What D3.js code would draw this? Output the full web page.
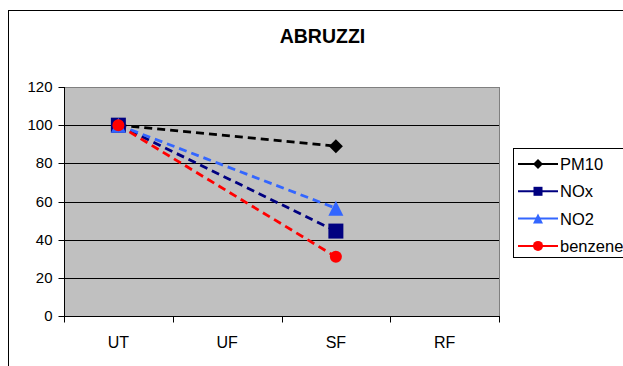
<!DOCTYPE html>
<html>
<head>
<meta charset="utf-8">
<script src="https://cdn.jsdelivr.net/npm/d3@7/dist/d3.min.js"></script>
<style>
  html, body { margin: 0; padding: 0; background: #fff; }
  svg { display: block; font-family: "Liberation Sans", Arial, sans-serif; }
</style>
</head>
<body>
<svg id="chart" width="623" height="366"></svg>
<script>
// Category stations and tick values
const categories = ["UT", "UF", "SF", "RF"];
const yTicks = [0, 20, 40, 60, 80, 100, 120];

// Index values per pollutant (null = no measurement)
const pm10    = [100, null, 89, null];
const nox     = [100, null, 44.5, null];
const no2     = [100, null, 56.5, null];
const benzene = [100, null, 31, null];

const seriesNames  = ["PM10", "NOx", "NO2", "benzene"];
const seriesColors = ["#000000", "#000080", "#3366FF", "#FF0000"];
const seriesData   = [pm10, nox, no2, benzene];

// Marker drawing: shape kind plus width in px
function marker(sel, kind, w, color) {
  if (kind === "diamond") {
    const h = w / 2;
    sel.append("path").attr("d", `M0,${-h}L${h},0L0,${h}L${-h},0Z`).attr("fill", color);
  } else if (kind === "square") {
    sel.append("rect").attr("x", -w / 2).attr("y", -w / 2).attr("width", w).attr("height", w).attr("fill", color);
  } else if (kind === "triangle") {
    const h = w / 2;
    sel.append("path").attr("d", `M0,${-h}L${h},${h}L${-h},${h}Z`).attr("fill", color);
  } else {
    sel.append("circle").attr("r", w / 2).attr("fill", color);
  }
}
const seriesShapes = ["diamond", "square", "triangle", "circle"];
const plotMarkerW  = [14, 15, 15, 12];
const legendMarkerW = [10, 9, 10, 10];

const svg = d3.select("#chart");

// Outer chart frame
svg.append("rect")
  .attr("x", 8.5).attr("y", 10.5)
  .attr("width", 700).attr("height", 400)
  .attr("fill", "#fff").attr("stroke", "#000").attr("stroke-width", 1);

const plot = { left: 64, right: 499, top: 87, bottom: 316 };

const x = d3.scaleBand().domain(categories).range([plot.left, plot.right]);
const y = d3.scaleLinear().domain([0, 120]).range([plot.bottom, plot.top]);
const py = v => Math.round(y(v)) + 0.5;

// Plot background with grey border
svg.append("rect")
  .attr("x", plot.left + 0.5).attr("y", plot.top + 0.5)
  .attr("width", plot.right - plot.left).attr("height", plot.bottom - plot.top)
  .attr("fill", "#C0C0C0").attr("stroke", "#808080");

// Horizontal gridlines
svg.append("g").selectAll("line").data(yTicks.filter(t => t > 0 && t < 120)).join("line")
  .attr("x1", plot.left).attr("x2", plot.right)
  .attr("y1", py).attr("y2", py)
  .attr("stroke", "#000").attr("stroke-width", 1);

// Y axis
const yAxis = svg.append("g")
  .attr("transform", `translate(${plot.left + 0.5},0)`)
  .call(d3.axisLeft(y).tickValues(yTicks).tickSize(6).tickPadding(6).tickSizeOuter(0));
yAxis.select(".domain").attr("d", `M0,${py(120) - 0.5}V${py(0)}`);
yAxis.selectAll("text").attr("font-size", 15).attr("fill", "#000")
  .attr("font-family", "Liberation Sans, Arial, sans-serif");
yAxis.selectAll("line, path").attr("stroke", "#000");
yAxis.selectAll(".tick").attr("transform", d => `translate(0,${py(d)})`);

// X axis with ticks at band boundaries
const xg = svg.append("g").attr("transform", `translate(0,${py(0)})`);
xg.append("line").attr("x1", plot.left).attr("x2", plot.right + 1)
  .attr("stroke", "#000");
const bounds = categories.map(c => x(c)).concat([plot.right]);
xg.selectAll("line.tk").data(bounds).join("line").attr("class", "tk")
  .attr("x1", d => Math.round(d) + 0.5).attr("x2", d => Math.round(d) + 0.5)
  .attr("y1", 0).attr("y2", 6).attr("stroke", "#000");
xg.selectAll("text").data(categories).join("text")
  .attr("x", d => x(d) + x.bandwidth() / 2).attr("y", 31)
  .attr("text-anchor", "middle").attr("font-size", 16).attr("fill", "#000")
  .text(d => d);

// Title
svg.append("text").attr("x", 322.5).attr("y", 43)
  .attr("text-anchor", "middle").attr("font-size", 19.5).attr("font-weight", "bold")
  .text("ABRUZZI");

// Series lines and markers
const cx = (i) => x(categories[i]) + x.bandwidth() / 2;
seriesData.forEach((vals, s) => {
  const pts = vals.map((v, i) => ({ i, v })).filter(p => p.v !== null);
  const line = d3.line().x(p => cx(p.i)).y(p => y(p.v));
  svg.append("path").datum(pts)
    .attr("d", line).attr("fill", "none")
    .attr("stroke", seriesColors[s]).attr("stroke-width", 2.8)
    .attr("stroke-dasharray", "8,5");
});
seriesData.forEach((vals, s) => {
  const pts = vals.map((v, i) => ({ i, v })).filter(p => p.v !== null);
  svg.append("g").selectAll("g").data(pts).join("g")
    .attr("transform", p => `translate(${cx(p.i)},${y(p.v)})`)
    .each(function () { marker(d3.select(this), seriesShapes[s], plotMarkerW[s], seriesColors[s]); });
});

// Legend
const lg = svg.append("g");
lg.append("rect").attr("x", 513.5).attr("y", 148.5).attr("width", 130).attr("height", 109)
  .attr("fill", "#fff").attr("stroke", "#000");
seriesNames.forEach((name, s) => {
  const ly = 164 + s * 27.3;
  lg.append("line").attr("x1", 518).attr("x2", 558).attr("y1", ly).attr("y2", ly)
    .attr("stroke", seriesColors[s]).attr("stroke-width", 2);
  marker(lg.append("g").attr("transform", `translate(538,${ly})`),
    seriesShapes[s], legendMarkerW[s], seriesColors[s]);
  lg.append("text").attr("x", 560).attr("y", ly + 6).attr("font-size", 16.5)
    .attr("fill", "#000").text(name);
});
</script>
</body>
</html>
